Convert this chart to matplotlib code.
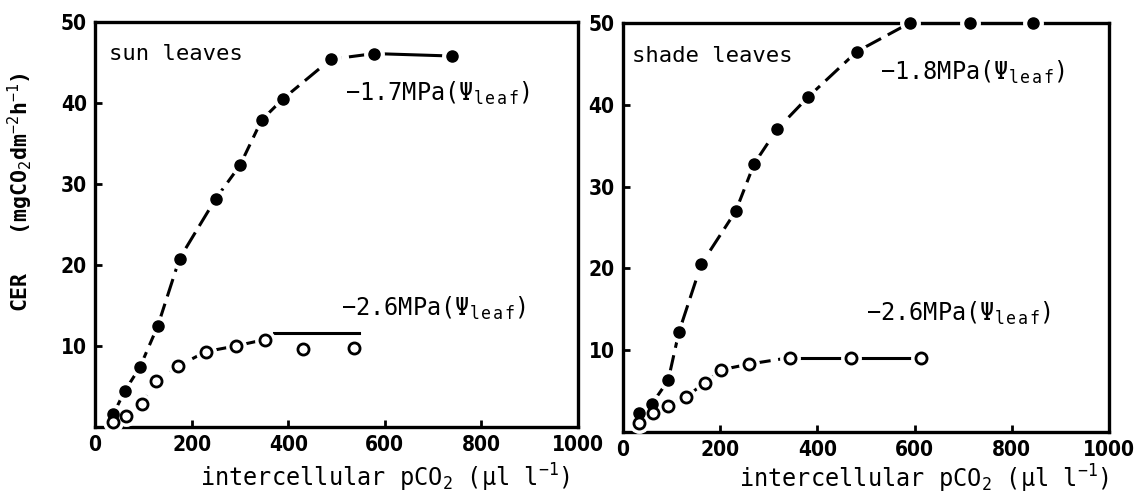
import numpy as np
import matplotlib
matplotlib.use('Agg')
import matplotlib.pyplot as plt

plt.rcParams['font.family'] = ['DejaVu Sans Mono', 'DejaVu Sans']
plt.rcParams['mathtext.fontset'] = 'custom'
plt.rcParams['mathtext.rm'] = 'DejaVu Sans Mono'
plt.rcParams['mathtext.it'] = 'DejaVu Sans Mono'
plt.rcParams['mathtext.bf'] = 'DejaVu Sans Mono:bold'

# ---- data ----
# sun leaves
sun_hi_x = [38, 61, 93, 130, 175, 250, 300, 345, 389, 488, 578, 738]
sun_hi_y = [1.6, 4.4, 7.4, 12.5, 20.8, 28.2, 32.3, 37.9, 40.5, 45.4, 46.1, 45.8]
sun_lo_x = [37, 64, 97, 126, 172, 229, 291, 352, 431, 536]
sun_lo_y = [0.65, 1.4, 2.8, 5.7, 7.5, 9.3, 10.0, 10.8, 9.6, 9.8]
sun_lo_fit_x = [370, 546]      # plateau drawn by hand in the original
sun_lo_fit_y = [11.6, 11.6]

# shade leaves
shade_hi_x = [33, 59, 93, 115, 161, 232, 270, 317, 380, 481, 590, 713, 844]
shade_hi_y = [2.3, 3.4, 6.3, 12.2, 20.5, 27.0, 32.8, 37.0, 40.9, 46.5, 50, 50, 50]
shade_lo_x = [34, 61, 92, 130, 168, 202, 259, 344, 469, 614]
shade_lo_y = [1.1, 2.3, 3.2, 4.3, 6.0, 7.6, 8.3, 9.1, 9.1, 9.1]

panel_titles = ['sun leaves', 'shade leaves']
hi_labels = ['1.7', '1.8']
lo_labels = ['2.6', '2.6']
x_ticks = [0, 200, 400, 600, 800, 1000]
y_ticks = [10, 20, 30, 40, 50]

fig = plt.figure(figsize=(11.37, 5.01), dpi=100)
ax1 = fig.add_axes([0.0836, 0.1477, 0.4248, 0.8084])
ax2 = fig.add_axes([0.5479, 0.1377, 0.4275, 0.8164])

ms = 8
dash = (6, 2.5)


def curve(ax, x, y, n_dash, filled):
    # dashed part, then solid part, markers with a white halo to cut the line
    ax.plot(x[:n_dash], y[:n_dash], color='black', lw=2.2, dashes=dash,
            clip_on=False, zorder=2)
    if n_dash < len(x):
        ax.plot(x[n_dash - 1:], y[n_dash - 1:], color='black', lw=2.2,
                clip_on=False, zorder=2)
    ax.plot(x, y, 'o', ms=ms + 6, color='white', mec='white', clip_on=False,
            zorder=3)
    if filled:
        ax.plot(x, y, 'o', ms=ms, color='black', clip_on=False, zorder=4)
    else:
        ax.plot(x, y, 'o', ms=ms, mfc='white', mec='black', mew=2,
                clip_on=False, zorder=4)


# left panel
curve(ax1, sun_hi_x, sun_hi_y, 11, True)
curve(ax1, sun_lo_x[:8], sun_lo_y[:8], 8, False)
ax1.plot(sun_lo_x[8:], sun_lo_y[8:], 'o', ms=ms, mfc='white', mec='black',
         mew=2, zorder=4)
ax1.plot(sun_lo_fit_x, sun_lo_fit_y, color='black', lw=2.2, zorder=2)

# right panel
curve(ax2, shade_hi_x, shade_hi_y, 11, True)
curve(ax2, shade_lo_x, shade_lo_y, 8, False)

# annotations
ax1.text(0.028, 0.92, panel_titles[0], transform=ax1.transAxes, fontsize=16,
         va='center')
ax2.text(0.018, 0.92, panel_titles[1], transform=ax2.transAxes, fontsize=16,
         va='center')
ax1.text(518, 41.2, '$-$' + hi_labels[0] + r'MPa($\Psi_{l\,e\,a\,f}$)',
         fontsize=17, va='center')
ax1.text(510, 14.7, '$-$' + lo_labels[0] + r'MPa($\Psi_{l\,e\,a\,f}$)',
         fontsize=17, va='center')
ax2.text(528, 44.0, '$-$' + hi_labels[1] + r'MPa($\Psi_{l\,e\,a\,f}$)',
         fontsize=17, va='center')
ax2.text(500, 14.5, '$-$' + lo_labels[1] + r'MPa($\Psi_{l\,e\,a\,f}$)',
         fontsize=17, va='center')

for ax in [ax1, ax2]:
    ax.set_xlim(0, 1000)
    ax.set_ylim(0, 50)
    ax.set_xticks(x_ticks)
    ax.set_yticks(y_ticks)
    ax.tick_params(direction='in', length=5, width=2, labelsize=15, pad=6)
    for s in ax.spines.values():
        s.set_linewidth(2.4)
    for lbl in ax.get_xticklabels() + ax.get_yticklabels():
        lbl.set_fontfamily('DejaVu Sans')
        lbl.set_fontstretch('condensed')
        lbl.set_fontweight('bold')
    ax.set_xlabel(r'intercellular pCO$_2$ ($\mu$l l$^{-1}$)', fontsize=17)

ax1.xaxis.set_label_coords(0.6, -0.085)
ax2.xaxis.set_label_coords(0.62, -0.075)

ax1.set_ylabel(r'CER   (mgCO$_2$dm$^{-2}$h$^{-1}$)', fontsize=15.5,
               fontweight='bold')
ax1.yaxis.set_label_coords(-0.125, 0.58)

fig.savefig('out.png', dpi=100)
